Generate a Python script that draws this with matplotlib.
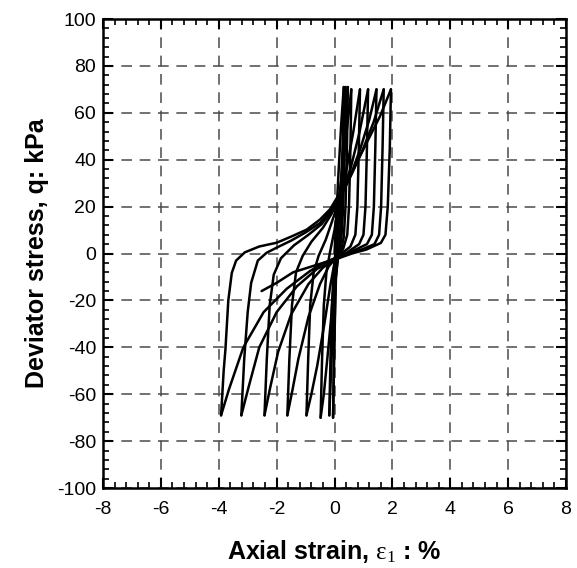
import matplotlib
matplotlib.use("Agg")
import matplotlib.pyplot as plt
from matplotlib.ticker import MultipleLocator

plt.rcParams['font.family'] = ['Liberation Sans', 'DejaVu Sans']
plt.rcParams['mathtext.fontset'] = 'custom'
plt.rcParams['mathtext.rm'] = 'Liberation Serif'
plt.rcParams['mathtext.it'] = 'Liberation Serif'
plt.rcParams['axes.unicode_minus'] = False

# ---- digitised branches (axial strain %, deviator stress kPa) ----
# initial loading
load0_x = [0.0, 0.06, 0.14, 0.23, 0.32]
load0_q = [0, 15, 35, 55, 71]

# unloading branches C_i -> E_i
unl1_x = [0.32, 0.29, 0.24, 0.18, 0.12, 0.05, 0.0, -0.05]
unl1_q = [71, 45, 20, 6, -2, -10, -35, -70]
unl2_x = [0.38, 0.35, 0.30, 0.24, 0.16, 0.10, 0.03, -0.05, -0.12, -0.18]
unl2_q = [71, 45, 20, 7, 1, -3, -12, -30, -50, -69]
unl3_x = [0.46, 0.43, 0.38, 0.32, 0.22, 0.10, -0.02, -0.12, -0.25, -0.37, -0.48]
unl3_q = [71, 45, 20, 7, 1, -3, -12, -28, -45, -60, -70]
unl4_x = [0.58, 0.55, 0.50, 0.44, 0.30, 0.15, 0.0, -0.15, -0.35, -0.60, -0.80, -0.97]
unl4_q = [70, 45, 20, 8, 2, -1, -4, -14, -30, -48, -60, -69]
unl5_x = [0.88, 0.84, 0.79, 0.72, 0.55, 0.30, 0.0, -0.20, -0.50, -0.90, -1.25, -1.45, -1.63]
unl5_q = [70, 45, 20, 8, 3, 0.5, -2.5, -5.5, -13, -27, -45, -58, -69]
unl6_x = [1.16, 1.12, 1.07, 1.00, 0.85, 0.50, 0.10, -0.40, -0.90, -1.50, -1.95, -2.22, -2.42]
unl6_q = [70, 45, 20, 8, 4, 1, -2, -6, -13, -26, -42, -57, -69]
unl7_x = [1.45, 1.41, 1.36, 1.29, 1.12, 0.70, 0.20, -0.20, -0.60, -1.30, -2.00, -2.60, -2.97, -3.22]
unl7_q = [70, 45, 20, 8, 4, 1.5, -1.5, -4, -6.5, -14, -25, -40, -57, -69]
unl8_x = [1.70, 1.66, 1.61, 1.54, 1.38, 1.00, 0.50, 0.0, -0.45, -0.85, -1.65, -2.45, -3.15, -3.65, -3.92]
unl8_q = [70, 45, 20, 8, 4, 2, 0, -2, -4.5, -7.5, -15, -25, -40, -58, -69]
unl9_x = [1.95, 1.91, 1.84, 1.76, 1.60, 1.10, 0.60, 0.19, -0.40, -1.43, -2.00, -2.52]
unl9_q = [70, 45, 20, 8, 4.5, 1.7, 0, -1.8, -4, -8, -12.5, -16]

# reloading branches E_i -> C_(i+1)
rel1_x = [-0.05, -0.02, 0.02, 0.06, 0.12, 0.20, 0.29, 0.38]
rel1_q = [-70, -45, -20, -5, 8, 25, 47, 71]
rel2_x = [-0.18, -0.14, -0.09, -0.03, 0.05, 0.13, 0.24, 0.35, 0.46]
rel2_q = [-69, -45, -22, -8, 3, 14, 32, 50, 71]
rel3_x = [-0.48, -0.43, -0.37, -0.28, -0.15, 0.0, 0.12, 0.27, 0.42, 0.58]
rel3_q = [-70, -45, -22, -8, 1, 10, 20, 35, 52, 70]
rel4_x = [-0.97, -0.91, -0.84, -0.72, -0.55, -0.30, -0.05, 0.15, 0.40, 0.65, 0.88]
rel4_q = [-69, -45, -22, -8, -1, 6, 15, 22, 35, 52, 70]
rel5_x = [-1.63, -1.56, -1.47, -1.33, -1.10, -0.80, -0.40, -0.10, 0.20, 0.55, 0.85, 1.16]
rel5_q = [-69, -45, -22, -8, -1, 5, 11, 17, 24, 36, 51, 70]
rel6_x = [-2.42, -2.34, -2.24, -2.10, -1.85, -1.40, -0.90, -0.45, -0.10, 0.25, 0.55, 0.90, 1.20, 1.45]
rel6_q = [-69, -45, -22, -9, -2, 3.5, 8, 12.5, 18, 25, 33, 45, 57, 70]
rel7_x = [-3.22, -3.12, -3.00, -2.88, -2.65, -2.35, -2.00, -1.50, -1.00, -0.50, -0.15, 0.20, 0.60, 1.00, 1.35, 1.70]
rel7_q = [-69, -45, -25, -12.5, -3, 0.3, 2.5, 5.5, 9, 13, 18, 24.5, 34, 45, 56, 70]
rel8_x = [-3.92, -3.83, -3.77, -3.67, -3.55, -3.40, -3.10, -2.60, -2.00, -1.50, -0.96, -0.50, -0.16,
          0.19, 0.65, 1.11, 1.57, 1.95]
rel8_q = [-69, -50, -41, -20, -8.3, -3, 0.5, 3, 4.6, 7.2, 10.2, 14.5, 18.8, 25.9, 35.8, 47.2, 58.5, 70]

branches = [
    (load0_x, load0_q),
    (unl1_x, unl1_q), (rel1_x, rel1_q),
    (unl2_x, unl2_q), (rel2_x, rel2_q),
    (unl3_x, unl3_q), (rel3_x, rel3_q),
    (unl4_x, unl4_q), (rel4_x, rel4_q),
    (unl5_x, unl5_q), (rel5_x, rel5_q),
    (unl6_x, unl6_q), (rel6_x, rel6_q),
    (unl7_x, unl7_q), (rel7_x, rel7_q),
    (unl8_x, unl8_q), (rel8_x, rel8_q),
    (unl9_x, unl9_q),
]

x_ticks = [-8, -6, -4, -2, 0, 2, 4, 6, 8]
y_ticks = [-100, -80, -60, -40, -20, 0, 20, 40, 60, 80, 100]

fig = plt.figure(figsize=(5.77, 5.68), dpi=100)
ax = fig.add_axes([0.1785, 0.1408, 0.8025, 0.8257])

for bx, bq in branches:
    ax.plot(bx, bq, color='black', lw=1.8, solid_joinstyle='round', solid_capstyle='round', zorder=3)

ax.set_xlim(-8, 8)
ax.set_ylim(-100, 100)
ax.set_xticks(x_ticks)
ax.set_yticks(y_ticks)
ax.xaxis.set_minor_locator(MultipleLocator(0.4))
ax.yaxis.set_minor_locator(MultipleLocator(4))
ax.tick_params(which='major', direction='in', length=7, width=1.5, top=True, right=True,
               labelsize=14, color='black')
ax.tick_params(axis='x', which='major', pad=9)
ax.tick_params(axis='y', which='major', pad=5)
ax.tick_params(which='minor', direction='in', length=4, width=1.2, top=True, right=True, color='black')
ax.grid(True, which='major', linestyle=(0, (7, 5)), linewidth=1.1, color='#4a4a4a', zorder=1)
for sp in ax.spines.values():
    sp.set_linewidth(1.8)

ax.set_xlabel(r'Axial strain, $\mathrm{ε_{1}}$ : %', fontsize=18, fontweight='bold', labelpad=15)
ax.set_ylabel('Deviator stress, q: kPa', fontsize=18, fontweight='bold', labelpad=6)

fig.savefig('out.png', dpi=100)
